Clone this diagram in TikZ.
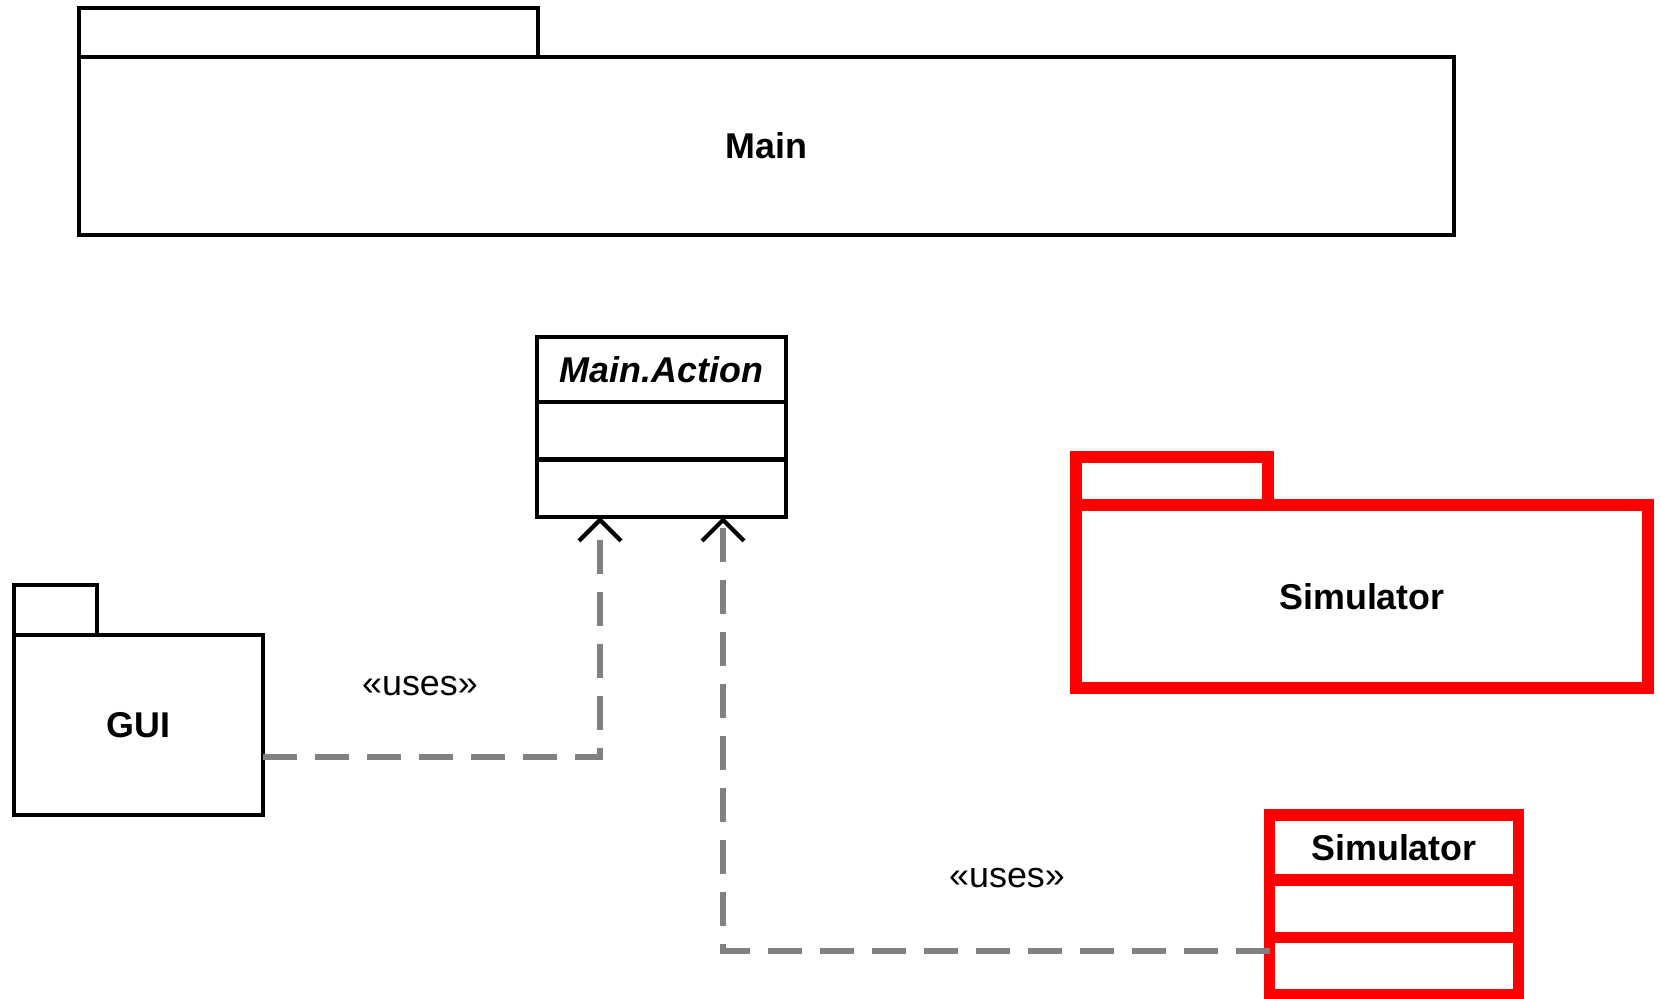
\documentclass[tikz,border=0pt]{standalone}
\usepackage{fontspec}
\setmainfont{Liberation Sans}
\usepackage{xcolor}
\usepackage{tikz}
\usetikzlibrary{arrows.meta,positioning}
\definecolor{umlred}{HTML}{FF0000}
\definecolor{umlgray}{HTML}{808080}

\begin{document}
\begin{tikzpicture}[
  every node/.style={font=\fontsize{10.2}{12}\selectfont, outer sep=0pt, inner sep=0pt},
  pkg/.style={draw=black, line width=1.2pt, rectangle, font=\fontsize{10.2}{12}\selectfont\bfseries},
  pkgred/.style={draw=umlred, line width=3.4pt, rectangle, font=\fontsize{10.2}{12}\selectfont\bfseries},
  classtitle/.style={minimum width=2.49cm, minimum height=0.65cm,
                     font=\fontsize{10.2}{12}\selectfont\bfseries},
  classpart/.style={minimum width=2.49cm, minimum height=0.575cm},
  uses/.style={draw=umlgray, line width=1.7pt, dash pattern=on 0.34cm off 0.18cm,
               -{Straight Barb[length=2.1mm, width=4.2mm, line width=1.2pt, color=black]}}
]
\useasboundingbox (0,0) rectangle (16.6,9.99);
% Main package
\node[pkg, minimum width=13.75cm, minimum height=1.78cm] (main) at (7.665,8.53) {Main};
\node[pkg, minimum width=4.59cm, minimum height=0.49cm, anchor=south west] (maintab) at (main.north west) {};
% Main.Action class
\node[classtitle, draw=black, line width=1.2pt, font=\fontsize{10.2}{12}\selectfont\bfseries\itshape] (actiontitle) at (6.615,6.295) {Main.Action};
\node[classpart, draw=black, line width=1.2pt, below=0pt of actiontitle] (actionattr) {};
\node[classpart, draw=black, line width=1.2pt, below=0pt of actionattr] (actionops) {};
% GUI package
\node[pkg, minimum width=2.49cm, minimum height=1.80cm] (gui) at (1.385,2.74) {GUI};
\node[pkg, minimum width=0.83cm, minimum height=0.50cm, anchor=south west] (guitab) at (gui.north west) {};
% Simulator package
\node[pkgred, minimum width=5.72cm, minimum height=1.83cm] (simpkg) at (13.62,4.025) {Simulator};
\node[pkgred, minimum width=1.92cm, minimum height=0.48cm, anchor=south west] (simpkgtab) at (simpkg.north west) {};
% Simulator class
\node[classtitle, draw=umlred, line width=3.4pt] (simtitle) at (13.94,1.515) {Simulator};
\node[classpart, draw=umlred, line width=3.4pt, below=0pt of simtitle] (simattr) {};
\node[classpart, draw=umlred, line width=3.4pt, below=0pt of simattr] (simops) {};
% dependencies
\draw[uses] ([yshift=-0.32cm]gui.east) -| ([xshift=-0.615cm]actionops.south);
\draw[uses] ([yshift=0.15cm]simops.west) -| ([xshift=0.615cm]actionops.south);
\node (usesgui) at (4.20,3.13) {«uses»};
\node (usessim) at (10.07,1.21) {«uses»};
\end{tikzpicture}
\end{document}
